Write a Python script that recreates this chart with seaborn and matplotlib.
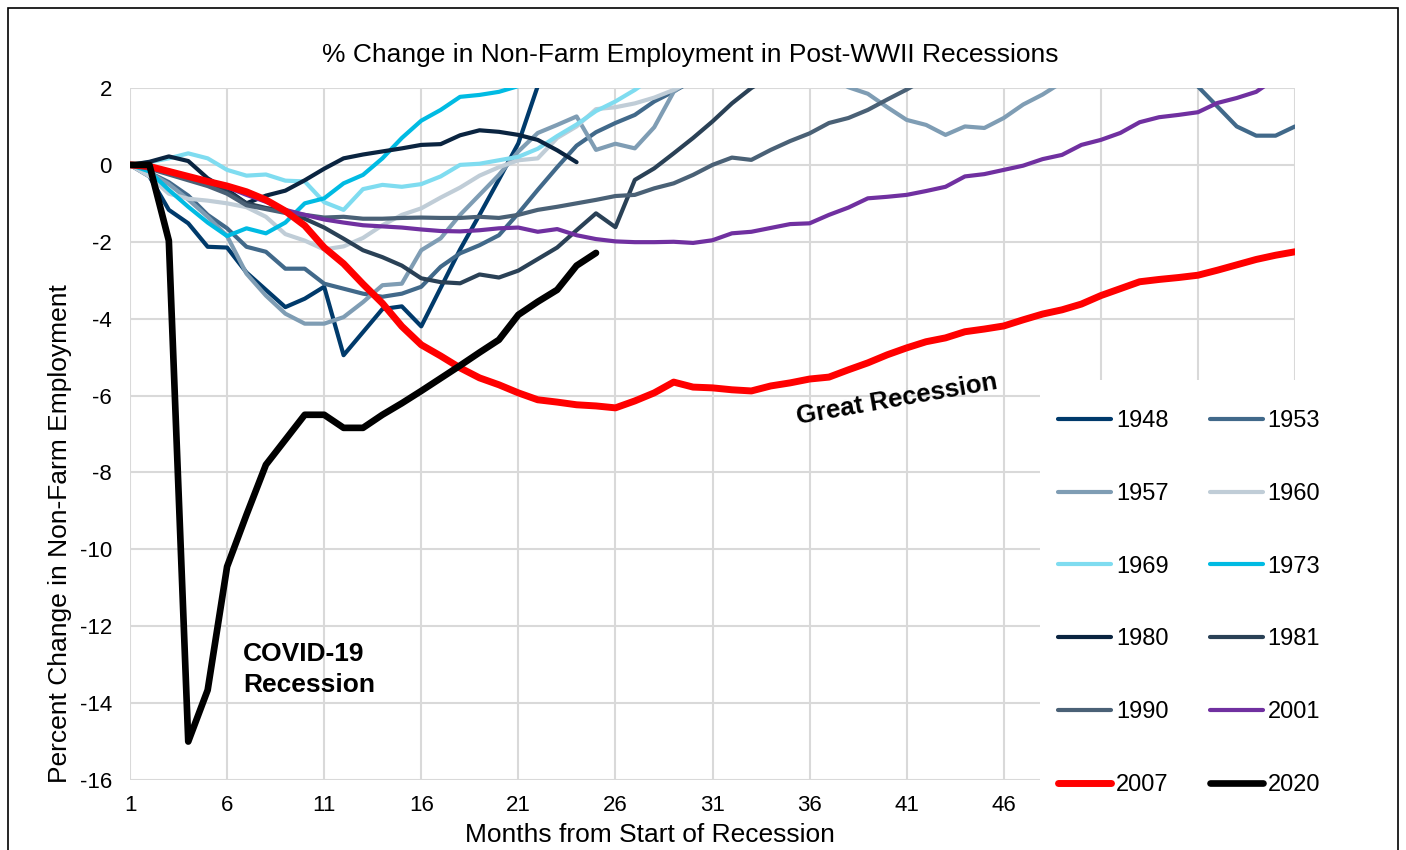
import pandas as pd
import matplotlib
matplotlib.use("Agg")
import matplotlib.pyplot as plt
import seaborn as sns
from matplotlib.patches import Rectangle

# -------------------------------
# Data: % change in non-farm employment, month 1 = start of recession
# -------------------------------
years = ["1948", "1953", "1957", "1960", "1969", "1973",
         "1980", "1981", "1990", "2001", "2007", "2020"]

r1948 = [0, -0.3, -1.17, -1.52, -2.13, -2.15, -2.8, -3.25, -3.7, -3.48, -3.17, -4.95,
         -4.35, -3.75, -3.68, -4.2, -3.2, -2.2, -1.3, -0.38, 0.56, 2.05]
r1953 = [0, -0.2, -0.45, -0.8, -1.3, -1.65, -2.13, -2.26, -2.7, -2.7,
         -3.09, -3.22, -3.35, -3.43, -3.35, -3.17, -2.65, -2.3, -2.09, -1.83,
         -1.26, -0.65, -0.06, 0.5, 0.85, 1.09, 1.3, 1.65, 1.91, 2.2,
         2.5, 2.8, 3.0, 3.2, 3.4, 3.5, 3.6, 3.7, 3.8, 3.8,
         3.9, 4.0, 4.0, 4.1, 4.1, 4.0, 3.9, 3.8, 3.6, 3.4,
         3.2, 3.0, 2.8, 2.6, 2.5, 2.04, 1.52, 1.0, 0.76, 0.76, 1.0]
r1957 = [0, -0.2, -0.5, -0.9, -1.35, -1.85, -2.83, -3.4, -3.87, -4.13,
         -4.13, -3.96, -3.57, -3.13, -3.09, -2.22, -1.91, -1.3, -0.78, -0.26,
         0.35, 0.83, 1.04, 1.26, 0.39, 0.55, 0.43, 0.98, 1.9, 2.3,
         2.6, 2.9, 3.1, 3.0, 2.8, 2.6, 2.3, 2.02, 1.85, 1.5,
         1.17, 1.04, 0.78, 1.0, 0.96, 1.22, 1.57, 1.83, 2.15]
r1960 = [0, -0.3, -0.75, -0.88, -0.93, -1.0, -1.1, -1.35, -1.8, -1.97,
         -2.2, -2.12, -1.9, -1.57, -1.3, -1.13, -0.85, -0.59, -0.28, -0.06,
         0.12, 0.17, 0.7, 1.0, 1.45, 1.5, 1.6, 1.75, 1.95, 2.2]
r1969 = [0, 0.07, 0.17, 0.3, 0.17, -0.13, -0.28, -0.25, -0.41, -0.43,
         -0.97, -1.17, -0.63, -0.52, -0.57, -0.5, -0.3, 0.0, 0.03, 0.12,
         0.21, 0.42, 0.75, 1.05, 1.4, 1.65, 1.95, 2.3]
r1973 = [0, -0.17, -0.65, -1.09, -1.5, -1.85, -1.65, -1.78, -1.5, -1.0,
         -0.87, -0.48, -0.26, 0.17, 0.7, 1.15, 1.43, 1.77, 1.82, 1.9, 2.05, 2.3]
r1980 = [0, 0.08, 0.22, 0.1, -0.35, -0.65, -1.0, -0.8, -0.67, -0.4,
         -0.1, 0.17, 0.27, 0.35, 0.43, 0.52, 0.54, 0.77, 0.9, 0.86,
         0.78, 0.65, 0.38, 0.07]
r1981 = [0, -0.05, -0.15, -0.3, -0.45, -0.7, -1.0, -1.12, -1.2, -1.4,
         -1.63, -1.92, -2.22, -2.4, -2.62, -2.95, -3.05, -3.08, -2.85, -2.93,
         -2.75, -2.45, -2.15, -1.7, -1.26, -1.62, -0.39, -0.09, 0.3, 0.7,
         1.13, 1.6, 2.0, 2.3]
r1990 = [0, -0.1, -0.25, -0.4, -0.55, -0.75, -1.05, -1.15, -1.25, -1.3,
         -1.37, -1.35, -1.4, -1.4, -1.38, -1.37, -1.38, -1.38, -1.35, -1.38,
         -1.3, -1.17, -1.09, -1.0, -0.91, -0.81, -0.78, -0.61, -0.48, -0.26,
         0.0, 0.19, 0.13, 0.39, 0.62, 0.82, 1.09, 1.22, 1.43, 1.7, 1.96, 2.25]
r2001 = [0, -0.08, -0.2, -0.3, -0.42, -0.58, -0.78, -0.96, -1.17, -1.3,
         -1.42, -1.5, -1.57, -1.6, -1.63, -1.68, -1.72, -1.73, -1.7, -1.65,
         -1.63, -1.74, -1.67, -1.83, -1.93, -1.99, -2.01, -2.01, -2.0, -2.03,
         -1.96, -1.78, -1.74, -1.64, -1.54, -1.52, -1.3, -1.11, -0.87, -0.83,
         -0.78, -0.68, -0.57, -0.3, -0.24, -0.13, -0.02, 0.15, 0.26, 0.52,
         0.65, 0.83, 1.11, 1.24, 1.3, 1.37, 1.61, 1.74, 1.9, 2.25]
r2007 = [0, -0.04, -0.17, -0.3, -0.43, -0.55, -0.7, -0.91, -1.2, -1.58,
         -2.15, -2.57, -3.1, -3.6, -4.2, -4.68, -4.97, -5.28, -5.54, -5.72,
         -5.93, -6.11, -6.17, -6.24, -6.27, -6.32, -6.14, -5.93, -5.65, -5.78,
         -5.8, -5.85, -5.88, -5.75, -5.67, -5.57, -5.52, -5.33, -5.15, -4.94,
         -4.76, -4.6, -4.5, -4.34, -4.27, -4.19, -4.03, -3.88, -3.77, -3.62,
         -3.4, -3.22, -3.04, -2.98, -2.93, -2.87, -2.74, -2.6, -2.46, -2.35, -2.26]
r2020 = [0, 0, -1.97, -15.0, -13.66, -10.45, -9.1, -7.8, -7.15, -6.5,
         -6.5, -6.84, -6.84, -6.5, -6.2, -5.88, -5.55, -5.22, -4.88, -4.55,
         -3.9, -3.56, -3.25, -2.62, -2.29]

series = [r1948, r1953, r1957, r1960, r1969, r1973,
          r1980, r1981, r1990, r2001, r2007, r2020]

colors = ["#003A6B", "#41698A", "#7F9DB4", "#C0CDD7", "#7FDCF0", "#00BBE3",
          "#0A2440", "#2A4156", "#4A6176", "#7030A0", "#FF0000", "#000000"]
widths = [3.0] * 10 + [5.0, 4.8]

# -------------------------------
# Long-form table for seaborn
# -------------------------------
frames = []
for yr, vals in zip(years, series):
    frames.append(pd.DataFrame({"Month": range(1, len(vals) + 1),
                                "Change": vals, "Recession": yr}))
df = pd.concat(frames, ignore_index=True)

sns.set_style("white")
plt.rcParams["font.family"] = ["Liberation Sans", "DejaVu Sans"]
plt.rcParams["axes.unicode_minus"] = False
plt.rcParams["text.color"] = "black"
plt.rcParams["axes.labelcolor"] = "black"

W, H = 1406, 850
fig = plt.figure(figsize=(W / 100, H / 100), dpi=100)
ax = fig.add_axes([130 / W, 1 - 780 / H, (1295 - 130) / W, (780 - 88) / H])

sns.lineplot(data=df, x="Month", y="Change", hue="Recession", hue_order=years,
             palette=dict(zip(years, colors)), size="Recession", size_order=years,
             sizes=dict(zip(years, widths)), estimator=None, legend=False, ax=ax)

for ln in ax.get_lines():
    ln.set_solid_capstyle("round")
    ln.set_solid_joinstyle("round")

ax.set_xlim(1, 61)
ax.set_ylim(-16, 2)
ax.set_xticks(range(1, 62, 5))
ax.set_yticks(range(-16, 3, 2))
ax.grid(True, color="#D9D9D9", lw=1.5)
ax.set_axisbelow(True)
for s in ax.spines.values():
    s.set_visible(False)
ax.tick_params(length=0, labelsize=16, colors="black")
ax.tick_params(axis="x", pad=11)
ax.tick_params(axis="y", pad=13)

ax.set_xlabel("Months from Start of Recession", fontsize=19, color="black")
ax.xaxis.set_label_coords(0.446, -0.079)
ax.xaxis.label.set_va("center")
ax.set_ylabel("Percent Change in Non-Farm Employment", fontsize=19, color="black")
ax.yaxis.set_label_coords(-0.060, 0.3555)
ax.yaxis.label.set_va("center")

fig.text(690 / W, 1 - 55 / H, "% Change in Non-Farm Employment in Post-WWII Recessions",
         fontsize=19, ha="center", va="center", color="black")

# annotations
ax.text(6.82, -12.4, "COVID-19\nRecession", fontsize=19, fontweight="bold",
        ha="left", va="top", color="black", linespacing=1.4)
ax.text(40.5, -6.1, "Great Recession", fontsize=18.5, fontweight="bold",
        rotation=10, rotation_mode="anchor", ha="center", va="center", color="black")

# legend on a white block over the lower right corner
fig.add_artist(Rectangle((1040 / W, 0), (1355 - 1040) / W, (H - 380) / H,
                         transform=fig.transFigure, facecolor="white",
                         edgecolor="none", zorder=3))
handles = ax.get_lines()
order = [0, 2, 4, 6, 8, 10, 1, 3, 5, 7, 9, 11]
fig.legend([handles[i] for i in order], [years[i] for i in order], ncol=2,
           loc="upper left", bbox_to_anchor=(1058 / W, 1 - 410 / H),
           frameon=False, fontsize=17, handlelength=2.25, handletextpad=0.2,
           columnspacing=1.75, labelspacing=2.15, borderpad=0, borderaxespad=0)

# outer border
fig.add_artist(Rectangle((8 / W, -0.05), (1398 - 8) / W, 0.05 + 1 - 8 / H,
                         transform=fig.transFigure, fill=False,
                         edgecolor="black", lw=1.2, zorder=6))

fig.savefig("out.png", dpi=100)
